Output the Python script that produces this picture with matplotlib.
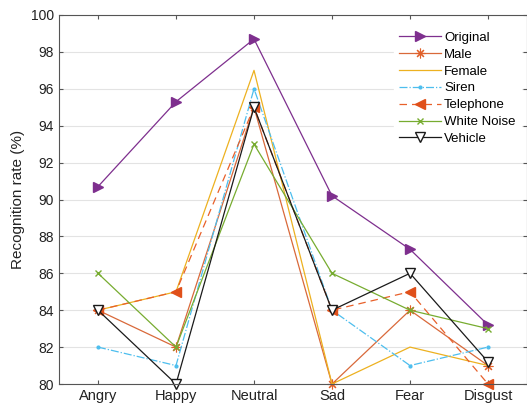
import numpy as np
import matplotlib
matplotlib.use("Agg")
import matplotlib.pyplot as plt

plt.rcParams['font.family'] = ['Liberation Sans', 'DejaVu Sans']

emotions = ['Angry', 'Happy', 'Neutral', 'Sad', 'Fear', 'Disgust']

original  = [90.7, 95.3, 98.7, 90.2, 87.3, 83.2]
male      = [84, 82, 95, 80, 84, 81]
female    = [84, 85, 97, 80, 82, 81]
siren     = [82, 81, 96, 84, 81, 82]
telephone = [84, 85, 95, 84, 85, 80]
white     = [86, 82, 93, 86, 84, 83]
vehicle   = [84, 80, 95, 84, 86, 81.2]

x = np.arange(1, len(emotions) + 1)

fig = plt.figure(figsize=(5.27, 4.09), dpi=100)
ax = fig.add_axes([59 / 527, 1 - 384 / 409, 468 / 527, 369 / 409])

# asterisk marker: 8 spokes
asterisk = (8, 2, 0)

ax.plot(x, original, color='#7E2F8E', lw=0.9, marker='>', ms=7,
        mfc='#7E2F8E', mec='#7E2F8E', label='Original', clip_on=False)
ax.plot(x, male, color='#D9693A', lw=0.9, marker=asterisk, ms=7,
        mec='#E0602A', mew=0.8, label='Male', clip_on=False)
ax.plot(x, female, color='#EDB120', lw=0.9, label='Female', clip_on=False)
ax.plot(x, siren, color='#4DBEEE', lw=0.9, ls='-.', marker='.', ms=4,
        label='Siren', clip_on=False)
ax.plot(x, telephone, color='#E8602A', lw=0.9, ls=(0, (6, 4)), marker='<', ms=7,
        mfc='#E0501A', mec='#E0501A', label='Telephone', clip_on=False)
ax.plot(x, white, color='#77AC30', lw=0.9, marker='x', ms=5,
        label='White Noise', clip_on=False)
ax.plot(x, vehicle, color='#1a1a1a', lw=0.9, marker='v', ms=7,
        mfc='white', mec='#1a1a1a', label='Vehicle', clip_on=False)

ax.set_xlim(0.5, 6.5)
ax.set_ylim(80, 100)
ax.set_xticks(x)
ax.set_xticklabels(emotions, fontsize=10.5)
ax.set_yticks(np.arange(80, 101, 2))
ax.tick_params(axis='y', labelsize=10)
ax.tick_params(direction='in', length=3, color='#555555', top=True, right=True,
               labelcolor='#222222')
ax.grid(axis='y', color='#e3e3e3', lw=0.8)
ax.set_axisbelow(True)
for s in ax.spines.values():
    s.set_color('#555555')
    s.set_linewidth(0.8)

ax.set_ylabel('Recognition rate (%)', fontsize=11, color='#222222')

leg = ax.legend(loc='upper right', bbox_to_anchor=(0.995, 0.98), fontsize=9.5,
                frameon=True, fancybox=False, edgecolor='white',
                handlelength=3.2, labelspacing=0.35, borderaxespad=0.3,
                handletextpad=0.2)
leg.get_frame().set_alpha(1)

fig.savefig('out.png', dpi=100)
